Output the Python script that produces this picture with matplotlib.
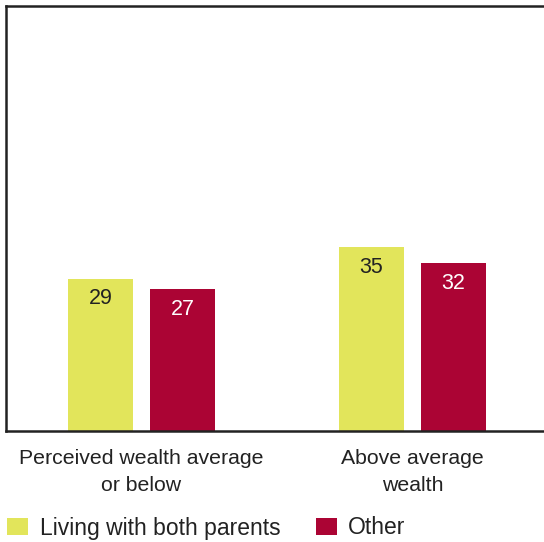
import numpy as np
import matplotlib.pyplot as plt
from matplotlib.patches import Patch

# Data
categories = ["Perceived wealth average\nor below", "Above average\nwealth"]
series_names = ["Living with both parents", "Other"]
both_parents = [29, 35]
other = [27, 32]

colors = ["#E2E55B", "#AB0434"]
label_colors = ["#222222", "white"]

plt.rcParams['font.family'] = ['Liberation Sans', 'DejaVu Sans']

fig = plt.figure(figsize=(5.44, 5.42), dpi=100)
W, H = 544, 542
# axes box in pixels: left 6, top 6, bottom 431, right runs past the figure edge
ax = fig.add_axes([6 / W, (H - 431) / H, (548 - 6) / W, (431 - 6) / H])

x = np.arange(len(categories))
width = 0.24
offset = 0.151

for i, (vals, col, lcol) in enumerate(zip([both_parents, other], colors, label_colors)):
    pos = x + (offset if i else -offset)
    bars = ax.bar(pos, vals, width=width, color=col, label=series_names[i])
    for b, v in zip(bars, vals):
        ax.text(b.get_x() + b.get_width() / 2, v - 1.8, str(v),
                ha='center', va='top', fontsize=15.5, color=lcol)

ax.set_xlim(-0.5, 1.5)
ax.set_ylim(0, 81)
ax.set_xticks([])
ax.set_yticks([])
for side in ['left', 'top', 'bottom']:
    ax.spines[side].set_color('#222222')
    ax.spines[side].set_linewidth(1.8)
ax.spines['right'].set_visible(False)

for xi, cat in zip(x, categories):
    ax.text(xi, -3.5, cat, ha='center', va='top', fontsize=15.3,
            color='#222222', linespacing=1.5)

handles = [Patch(facecolor=c) for c in colors]
fig.legend(handles, series_names, loc='center left', bbox_to_anchor=(7 / W, 14 / H),
           ncol=2, frameon=False, fontsize=16.5, handlelength=0.92, handleheight=0.74,
           handletextpad=0.5, columnspacing=1.55, borderaxespad=0, borderpad=0,
           labelcolor='#222222')

fig.savefig("out.png", dpi=100)
